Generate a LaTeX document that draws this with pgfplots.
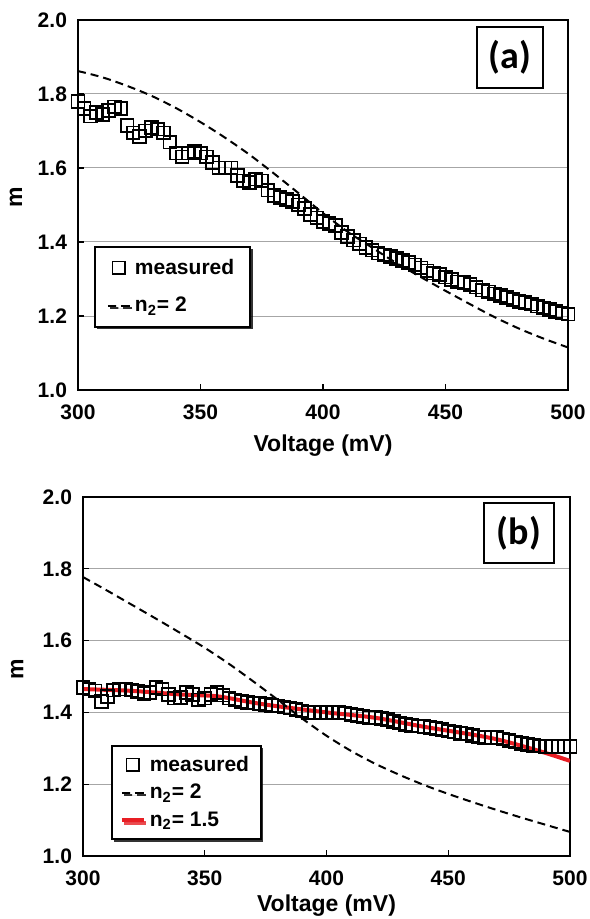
\documentclass[border=0pt]{standalone}
\usepackage{fontspec}
\setmainfont{Liberation Sans}
\newfontfamily\carlito{Carlito}
\usepackage{pgfplots}
\pgfplotsset{compat=1.18}
\usetikzlibrary{shadows}
\definecolor{fitred}{RGB}{232,30,36}

\pgfplotsset{
  myaxis/.style={
    scale only axis,
    xmin=300, xmax=500, ymin=1.0, ymax=2.0,
    xtick={300,350,400,450,500},
    ytick={1.0,1.2,1.4,1.6,1.8,2.0},
    yticklabel style={/pgf/number format/.cd,fixed,fixed zerofill,precision=1},
    /pgf/number format/assume math mode=true,
    tick label style={font=\bfseries\fontsize{10.5}{12}\selectfont},
    xticklabel shift=4pt, yticklabel shift=2pt,
    label style={font=\bfseries\fontsize{11.5}{13}\selectfont},
    xtick pos=left, ytick pos=left,
    major tick length=3pt,
    tick style={black, line width=0.6pt},
    axis line style={line width=1.2pt},
    ymajorgrids,
    grid style={gray!70, line width=0.5pt},
    xlabel={Voltage (mV)}, ylabel={m},
    legend cell align=left,
    legend image code/.code={\draw[mark repeat=2,mark phase=2,#1] plot coordinates {(0pt,0pt) (5.5pt,0pt) (11pt,0pt)};},
  },
  meas/.style={only marks, mark=square, mark size=3.2pt, mark options={black, line width=0.9pt, fill=none}},
  dashfit/.style={black, line width=1pt, dash pattern=on 4pt off 2.5pt, no marks},
  redfit/.style={fitred, line width=2pt, no marks},
}

\begin{document}
\begin{tikzpicture}
\path[use as bounding box] (0,0) rectangle (294.5pt,-459.5pt);

% ---------------- panel (a) ----------------
\begin{axis}[myaxis,
  at={(39pt,-195pt)}, anchor=south west,
  width=245pt, height=185pt,
  x label style={at={(axis description cs:0.5,-0.149)}, anchor=center},
  y label style={at={(axis description cs:-0.1265,0.52)}, anchor=center},
  legend style={at={(0.033,0.389)}, anchor=north west, draw=black, line width=0.8pt,
    font=\bfseries\fontsize{10.5}{12}\selectfont, row sep=6pt, inner xsep=6pt, inner ysep=4pt,
    drop shadow={shadow xshift=1.2pt, shadow yshift=-1.2pt, fill=black, opacity=0.8}},
]
\addplot[meas] coordinates {
(300,1.780) (302.5,1.760) (305,1.740) (307.5,1.750) (310,1.745) (312.5,1.755) (315,1.765) (317.5,1.760)
(320,1.715) (322.5,1.695) (325,1.685) (327.5,1.700) (330,1.710) (332.5,1.705) (335,1.695) (337.5,1.670)
(340,1.640) (342.5,1.630) (345,1.640) (347.5,1.645) (350,1.640) (352.5,1.630) (355,1.615) (357.5,1.600)
(360,1.600) (362.5,1.600) (365,1.580) (367.5,1.565) (370,1.560) (372.5,1.570) (375,1.565) (377.5,1.540)
(380,1.525) (382.5,1.520) (385,1.515) (387.5,1.510) (390,1.500) (392.5,1.490) (395,1.475) (397.5,1.465)
(400,1.455) (402.5,1.450) (405,1.445) (407.5,1.425) (410,1.415) (412.5,1.405) (415,1.395) (417.5,1.385)
(420,1.378) (422.5,1.370) (425,1.365) (427.5,1.360) (430,1.355) (432.5,1.350) (435,1.345) (437.5,1.338)
(440,1.330) (442.5,1.322) (445,1.316) (447.5,1.312) (450,1.305) (452.5,1.298) (455,1.292) (457.5,1.290)
(460,1.285) (462.5,1.278) (465,1.270) (467.5,1.265) (470,1.260) (472.5,1.255) (475,1.250) (477.5,1.245)
(480,1.240) (482.5,1.236) (485,1.232) (487.5,1.227) (490,1.222) (492.5,1.217) (495,1.212) (497.5,1.208)
(500,1.205)};
\addlegendentry{measured}
\addplot[dashfit, smooth] coordinates {
(300,1.862) (310,1.845) (320,1.822) (330,1.795) (340,1.762) (350,1.724) (360,1.682) (370,1.636)
(380,1.585) (390,1.532) (400,1.478) (410,1.428) (420,1.385) (430,1.343) (440,1.305) (450,1.268)
(460,1.232) (470,1.197) (480,1.166) (490,1.139) (500,1.115)};
\addlegendentry{n\textsubscript{2}= 2}
\node[draw=black, line width=1pt, minimum width=33pt, minimum height=30.5pt, inner sep=0pt,
  font=\carlito\bfseries\fontsize{19}{21}\selectfont] at (rel axis cs:0.8816,0.8986) {(a)};
\end{axis}

% ---------------- panel (b) ----------------
\begin{axis}[myaxis,
  at={(41.5pt,-428pt)}, anchor=south west,
  width=243.5pt, height=179.5pt,
  x label style={at={(axis description cs:0.5,-0.139)}, anchor=center},
  y label style={at={(axis description cs:-0.135,0.52)}, anchor=center},
  legend style={at={(0.0575,0.309)}, anchor=north west, draw=black, line width=0.8pt,
    font=\bfseries\fontsize{10.5}{12}\selectfont, row sep=1pt, inner xsep=4pt, inner ysep=3pt,
    drop shadow={shadow xshift=1.2pt, shadow yshift=-1.2pt, fill=black, opacity=0.8}},
]
\addplot[redfit, smooth, forget plot] coordinates {
(300,1.465) (320,1.460) (340,1.450) (355,1.445) (370,1.427) (380,1.417) (400,1.400) (420,1.385)
(440,1.360) (460,1.338) (470,1.325) (480,1.307) (490,1.287) (500,1.265)};
\addplot[meas] coordinates {
(300,1.470) (302.5,1.465) (305,1.460) (307.5,1.430) (310,1.445) (312.5,1.462) (315,1.465) (317.5,1.465)
(320,1.462) (322.5,1.458) (325,1.452) (327.5,1.455) (330,1.470) (332.5,1.465) (335,1.450) (337.5,1.440)
(340,1.442) (342.5,1.455) (345,1.450) (347.5,1.435) (350,1.440) (352.5,1.450) (355,1.455) (357.5,1.448)
(360,1.440) (362.5,1.435) (365,1.430) (367.5,1.428) (370,1.426) (372.5,1.424) (375,1.422) (377.5,1.420)
(380,1.418) (382.5,1.415) (385,1.412) (387.5,1.408) (390,1.404) (392.5,1.400) (395,1.400) (397.5,1.400)
(400,1.400) (402.5,1.400) (405,1.401) (407.5,1.398) (410,1.395) (412.5,1.392) (415,1.388) (417.5,1.385)
(420,1.385) (422.5,1.383) (425,1.380) (427.5,1.375) (430,1.370) (432.5,1.367) (435,1.364) (437.5,1.362)
(440,1.360) (442.5,1.358) (445,1.355) (447.5,1.352) (450,1.348) (452.5,1.345) (455,1.342) (457.5,1.340)
(460,1.336) (462.5,1.332) (465,1.330) (467.5,1.330) (470,1.330) (472.5,1.326) (475,1.322) (477.5,1.318)
(480,1.314) (482.5,1.311) (485,1.308) (487.5,1.306) (490,1.305) (492.5,1.305) (495,1.305) (497.5,1.305)
(500,1.305)};
\addlegendentry{measured}
\addplot[dashfit, smooth] coordinates {
(300,1.777) (310,1.739) (320,1.700) (330,1.661) (340,1.621) (350,1.580) (360,1.535) (370,1.486)
(380,1.435) (390,1.383) (400,1.335) (410,1.293) (420,1.257) (430,1.226) (440,1.198) (450,1.173)
(460,1.150) (470,1.128) (480,1.107) (490,1.087) (500,1.067)};
\addlegendentry{n\textsubscript{2}= 2}
\addlegendimage{redfit}
\addlegendentry{n\textsubscript{2}= 1.5}
\node[draw=black, line width=1pt, minimum width=35pt, minimum height=30pt, inner sep=0pt,
  font=\carlito\bfseries\fontsize{19}{21}\selectfont] at (rel axis cs:0.895,0.9) {(b)};
\end{axis}
\end{tikzpicture}
\end{document}
